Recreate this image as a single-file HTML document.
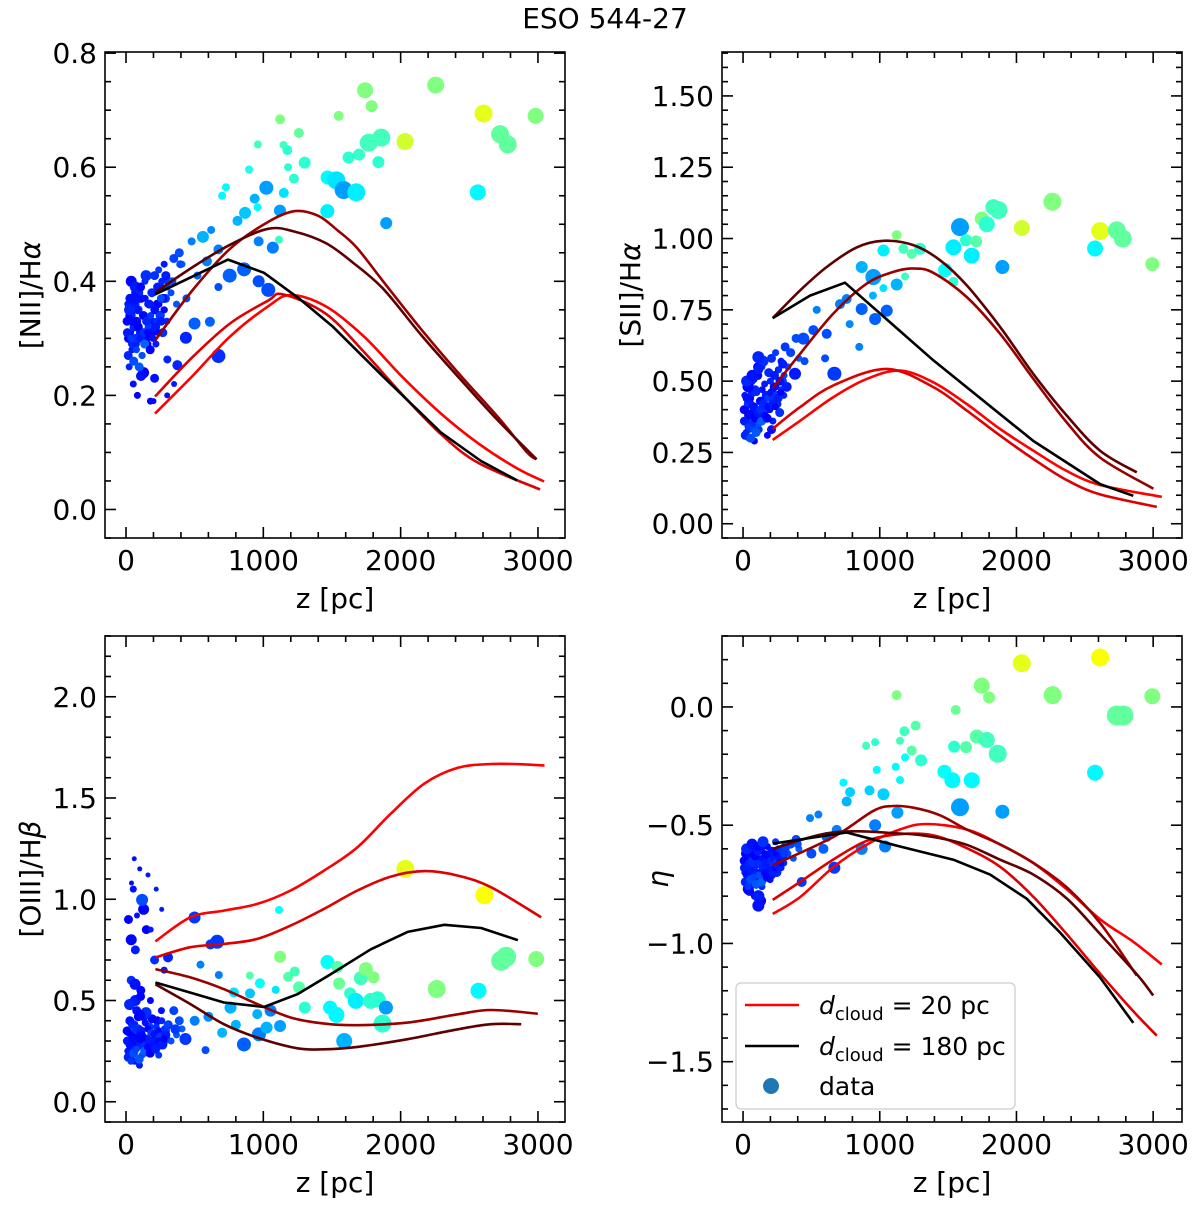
<!DOCTYPE html>
<html><head><meta charset="utf-8"><style>
html,body{margin:0;padding:0;background:#fff}
svg{display:block;font-family:"DejaVu Sans","Liberation Sans",sans-serif}
</style></head><body>
<svg id="fig" width="1200" height="1205" viewBox="0 0 1200 1205" xmlns="http://www.w3.org/2000/svg">
<text x="605" y="28" font-size="28" text-anchor="middle">ESO 544-27</text>
</svg>
<script>
// ---------- data ----------
const panelNames = ['nii-panel','sii-panel','oiii-panel','eta-panel'];
const xTicks = [0,1000,2000,3000];
const yTicks1 = [0.0,0.2,0.4,0.6,0.8];
const yTickLabels1 = ['0.0','0.2','0.4','0.6','0.8'];
const yTicks2 = [0,0.25,0.5,0.75,1.0,1.25,1.5];
const yTickLabels2 = ['0.00','0.25','0.50','0.75','1.00','1.25','1.50'];
const yTicks3 = [0,0.5,1.0,1.5,2.0];
const yTickLabels3 = ['0.0','0.5','1.0','1.5','2.0'];
const yTicks4 = [-1.5,-1.0,-0.5,0.0];
const yTickLabels4 = ['\u22121.5','\u22121.0','\u22120.5','0.0'];

// cluster of small points near the disk (shared z, per-panel values)
const clusterZ = [0,5,10,15,20,25,30,35,40,45,50,55,60,65,70,75,80,90,100,110,120,130,140,150,160,170,180,190,200,210,220,230,240,250,260,270,280,290,300,320,340,360,380,400,30,120,200,60];
const clusterC = [.13,.15,.12,.16,.14,.13,.17,.15,.12,.14,.16,.13,.15,.17,.14,.12,.16,.15,.13,.17,.14,.16,.12,.15,.18,.13,.16,.14,.17,.15,.13,.18,.16,.14,.17,.15,.19,.16,.18,.2,.19,.21,.2,.22,.13,.12,.14,.15];
const clusterR = [4,3,4,3,4,3,4,3,4,3,4,3,4,3,4,3,4,3,4,3,4,3,4,3,4,3,4,3,4,3,4,3,4,3,4,3,4,3,4,3,4,3,4,3,5,5,4,5];
const clusterV1 = [.33,.36,.30,.25,.37,.31,.34,.28,.35,.22,.32,.38,.29,.36,.33,.20,.35,.31,.37,.27,.34,.40,.30,.36,.32,.19,.38,.33,.41,.29,.36,.42,.34,.39,.31,.43,.37,.33,.40,.38,.44,.36,.45,.43,.40,.24,.23,.39];
const clusterV2 = [.40,.45,.36,.32,.48,.38,.42,.30,.44,.35,.50,.39,.46,.34,.41,.29,.47,.37,.52,.33,.43,.55,.38,.49,.40,.31,.53,.44,.58,.36,.48,.60,.42,.54,.39,.57,.50,.45,.62,.55,.60,.52,.65,.58,.48,.37,.33,.51];
const clusterV3 = [.35,.25,.90,.30,.40,.22,.60,.33,.28,1.05,.38,.20,.75,.31,.45,.27,.36,.18,.55,.32,.42,.24,.85,.29,.37,.50,.26,.34,.70,.30,.40,.23,.33,.45,.28,.65,.35,.31,.38,.30,.45,.33,.40,.36,.80,.95,.30,.50];
const clusterV4 = [-.65,-.70,-.62,-.75,-.68,-.60,-.72,-.66,-.78,-.63,-.69,-.58,-.74,-.67,-.61,-.80,-.70,-.64,-.72,-.66,-.60,-.76,-.68,-.63,-.71,-.59,-.67,-.73,-.62,-.69,-.65,-.57,-.70,-.64,-.61,-.68,-.63,-.66,-.60,-.62,-.58,-.64,-.56,-.60,-.77,-.82,-.71,-.60];
// second cluster layer
const cluster2Z = [2,12,22,32,42,52,62,72,82,92,102,112,122,132,142,152,162,172,182,192,202,212,222,232,242,252,262,272,282,292,8,28,48,68,88,108,128,148,168,188,208,228,248,268,18,58,98,138];
const cluster2V1 = [.31,.34,.37,.29,.33,.36,.30,.35,.32,.38,.30,.34,.31,.37,.33,.29,.36,.34,.31,.38,.35,.33,.39,.36,.34,.40,.37,.35,.41,.39,.27,.30,.26,.28,.25,.27,.29,.31,.28,.30,.32,.31,.33,.35,.35,.37,.39,.41];
const cluster2V2 = [.36,.40,.44,.33,.38,.42,.35,.41,.37,.46,.39,.43,.40,.47,.42,.38,.45,.44,.41,.50,.46,.44,.52,.48,.45,.54,.50,.47,.56,.52,.31,.34,.30,.33,.32,.35,.36,.38,.37,.40,.42,.41,.44,.46,.50,.52,.55,.57];
const cluster2V3 = [.30,.34,.28,.38,.32,.26,.36,.31,.42,.29,.35,.33,.27,.39,.31,.36,.30,.34,.41,.28,.33,.37,.30,.35,.32,.40,.29,.36,.33,.38,.22,.20,.24,.26,.21,.23,.25,.27,.24,.28,.26,.30,.28,.31,.48,.58,.52,.44];
const cluster2V4 = [-.68,-.64,-.71,-.66,-.62,-.69,-.65,-.72,-.63,-.67,-.61,-.70,-.66,-.64,-.68,-.62,-.66,-.70,-.63,-.65,-.61,-.67,-.64,-.62,-.66,-.60,-.64,-.61,-.63,-.59,-.74,-.76,-.73,-.72,-.75,-.71,-.74,-.70,-.72,-.69,-.70,-.68,-.67,-.66,-.60,-.58,-.59,-.57];

// individual points: [z, value, marker radius, colour value]
const pts1 = [[1741,.735,8,.5],[1789,.707,6,.5],[2255,.744,8.5,.5],[2604,.694,9,.6],[2983,.69,8,.5],[2724,.658,9,.47],[2780,.64,9,.47],[2032,.645,8.5,.58],[1859,.652,9,.44],[1768,.643,9,.44],[2562,.556,8,.37],[1895,.502,6,.28],[1697,.622,6,.43],[1838,.609,6,.42],[1621,.617,6,.42],[1549,.69,5,.5],[1259,.66,5,.47],[1122,.684,5,.5],[960,.64,4,.44],[1147,.639,4,.44],[1175,.63,5,.42],[1301,.608,6,.42],[1180,.60,4,.42],[1223,.58,5,.42],[896,.596,4,.4],[1468,.582,7,.37],[1532,.577,9,.35],[1585,.56,9,.28],[1677,.556,9,.36],[1466,.523,7,.36],[1022,.564,7,.28],[1121,.524,6,.28],[1149,.555,5,.35],[937,.545,5,.3],[1069,.459,6,.25],[966,.47,5,.25],[860,.421,7,.22],[966,.40,6,.2],[1036,.385,7,.2],[755,.41,7,.22],[673,.269,7,.17],[436,.301,6,.16],[374,.253,5,.16],[301,.263,4,.16],[109,.234,5,.14],[499,.326,6,.22],[611,.329,5,.22],[560,.478,6,.3],[867,.52,6,.32],[812,.506,5,.3],[700,.55,4,.37],[728,.565,4,.37],[958,.53,4,.37],[1114,.473,4,.43],[673,.456,5,.25],[589,.435,5,.25],[478,.47,4,.25],[395,.43,4,.2],[338,.40,4,.2],[254,.37,4,.2],[673,.39,4,.2],[620,.49,4,.26],[520,.41,4,.22],[440,.37,4,.2],[300,.20,3,.14],[200,.19,3,.13],[350,.22,3,.15]];
const pts2 = [[2263,1.129,9,.5],[2612,1.026,9,.6],[2734,1.029,9,.47],[2778,1.0,9,.47],[2994,.91,7,.5],[2575,.965,8,.37],[2039,1.037,8,.58],[1868,1.10,9,.44],[1831,1.11,8,.44],[1783,1.05,8,.42],[1746,1.07,7,.5],[1587,1.04,9,.28],[1539,.969,8,.36],[1673,.94,8,.36],[1705,.99,6,.46],[1631,.994,6,.42],[1897,.90,7,.28],[1478,.889,7,.38],[1539,.848,5,.42],[1124,1.012,5,.5],[1027,.958,6,.36],[1173,.964,5,.44],[1234,.946,5,.46],[1295,.964,6,.42],[868,.90,6,.3],[953,.865,8,.28],[1124,.839,6,.3],[1027,.826,4,.35],[1185,.867,4,.43],[1051,.747,6,.22],[966,.718,6,.22],[868,.753,6,.22],[758,.788,5,.25],[709,.77,5,.25],[668,.526,7,.18],[441,.649,6,.2],[514,.679,5,.2],[539,.75,4,.25],[612,.666,5,.2],[380,.526,6,.15],[112,.584,6,.16],[112,.542,5,.15],[319,.48,5,.15],[850,.62,4,.25],[780,.70,4,.26],[950,.80,4,.3],[600,.58,4,.2],[450,.57,4,.2]];
const pts3 = [[2034,1.15,9,.6],[2610,1.02,9,.62],[2768,.716,10,.47],[2732,.696,10,.47],[2988,.705,8,.5],[2263,.557,9,.5],[2567,.548,8,.37],[1868,.386,9,.42],[1893,.465,7,.28],[1783,.498,8,.42],[1832,.506,8,.42],[1673,.498,8,.36],[1747,.655,7,.5],[1803,.614,6,.5],[1710,.61,7,.44],[1632,.535,6,.42],[1540,.666,6,.46],[1552,.584,6,.48],[1467,.69,7,.38],[1486,.465,7,.37],[1532,.429,8,.37],[1589,.30,8,.3],[1122,.716,6,.5],[1114,.947,4,.38],[1180,.617,5,.46],[1229,.643,5,.44],[1260,.565,6,.46],[1302,.465,6,.42],[1122,.374,6,.28],[1024,.366,6,.3],[968,.333,7,.25],[859,.283,7,.22],[903,.535,5,.32],[975,.585,5,.38],[902,.623,4,.46],[786,.54,5,.35],[1090,.553,4,.35],[1053,.45,6,.25],[956,.433,5,.3],[761,.465,6,.3],[700,.341,5,.3],[664,.79,7,.18],[499,.91,6,.18],[615,.777,5,.18],[676,.626,4,.25],[542,.677,4,.25],[433,.31,6,.18],[579,.255,4,.2],[306,.713,5,.16],[117,.997,6,.2],[104,.317,6,.13],[104,.429,5,.13],[360,.358,5,.18],[60,1.2,2.5,.14],[100,1.15,2.5,.14],[160,1.12,2.5,.15],[220,1.05,2.5,.15],[40,1.08,2.5,.14],[260,0.95,2.5,.15],[80,0.92,3,.14],[180,0.85,3,.15],[600,.42,5,.26],[800,.38,5,.3],[500,.40,5,.25]];
const pts4 = [[2039,.185,9,.6],[2612,.209,9,.62],[2265,.05,9,.5],[2994,.045,8,.5],[2734,-.036,10,.47],[2783,-.036,10,.47],[2575,-.278,8,.37],[1746,.09,8,.5],[1800,.04,6,.5],[1556,-.013,5,.48],[1124,.05,5,.5],[1863,-.198,9,.44],[1783,-.139,8,.44],[1710,-.125,7,.46],[1631,-.17,6,.46],[1544,-.168,6,.42],[1473,-.274,7,.38],[1531,-.31,8,.37],[1673,-.31,8,.37],[1587,-.424,9,.28],[1897,-.443,7,.28],[1263,-.079,5,.46],[1180,-.103,5,.44],[1148,-.143,4,.44],[1234,-.184,5,.46],[1302,-.226,6,.42],[1185,-.213,4,.38],[1117,-.253,4,.37],[978,-.266,4,.37],[966,-.149,4,.42],[900,-.164,4,.44],[1148,-.309,4,.37],[1027,-.369,6,.33],[1129,-.447,6,.28],[966,-.50,6,.25],[1039,-.59,6,.25],[868,-.60,6,.25],[668,-.68,6,.18],[925,-.353,5,.33],[783,-.36,5,.33],[734,-.32,4,.37],[758,-.40,5,.3],[685,-.52,5,.25],[612,-.55,5,.22],[588,-.60,5,.22],[429,-.74,5,.18],[112,-.80,6,.15],[112,-.84,6,.14],[490,-.47,4,.25],[551,-.455,4,.25],[400,-.58,4,.2],[300,-.62,4,.18],[500,-.62,5,.2]];

// model lines (order: bright red, red, maroon, dark maroon, black)
const lineColors = ['#ff0000','#dd0000','#990000','#5e0000','#000000'];
const l1z = [[211,480,757,1034,1202,1456,1733,2010,2294,2571,2848,3045],[211,480,757,1034,1144,1456,1733,2010,2294,2571,3015],[211,480,757,1034,1231,1398,1537,1677,1872,2149,2432,2709,2921,2990],[211,480,757,1034,1231,1456,1646,1872,2149,2432,2709,2990],[211,743,1005,1260,1508,1872,2294,2585,2848]];
const l1v = [[.168,.233,.303,.356,.376,.356,.303,.233,.168,.115,.072,.049],[.198,.266,.326,.366,.377,.343,.276,.202,.132,.081,.035],[.296,.383,.457,.504,.523,.515,.49,.46,.40,.316,.236,.162,.1,.088],[.38,.424,.464,.492,.487,.467,.434,.387,.306,.229,.156,.088],[.377,.438,.415,.37,.32,.233,.135,.085,.051]];
const l2z = [[217,417,661,905,1149,1392,1636,1880,2124,2368,2612,3063],[217,417,661,1051,1392,1636,1880,2124,2368,2612,3027],[217,417,661,905,1100,1246,1392,1636,1880,2124,2368,2612,3002],[217,417,612,831,1027,1246,1441,1636,1880,2124,2368,2612,2880],[217,490,746,1392,2124,2612,2855]];
const l2v = [[.294,.361,.444,.508,.537,.496,.42,.332,.256,.185,.136,.094],[.333,.409,.485,.543,.479,.397,.309,.227,.153,.103,.059],[.475,.596,.737,.842,.883,.895,.88,.795,.666,.508,.355,.232,.123],[.721,.818,.90,.969,.992,.977,.924,.836,.69,.525,.379,.256,.18],[.721,.80,.845,.573,.29,.139,.098]];
const l3z = [[214,469,713,956,1199,1443,1686,1929,2173,2416,2659,2903,3048],[214,469,713,956,1199,1443,1686,1929,2173,2416,2659,3024],[214,469,713,956,1199,1443,1686,2051,2416,2659,2999],[214,469,713,956,1248,1443,1686,2051,2416,2659,2878],[214,469,713,1005,1248,1491,1783,2051,2319,2586,2854]];
const l3v = [[.792,.911,.944,.977,1.043,1.142,1.257,1.423,1.571,1.649,1.668,1.666,1.66],[.713,.763,.779,.804,.87,.953,1.043,1.112,1.139,1.117,1.059,.911],[.655,.614,.556,.482,.416,.386,.378,.391,.432,.453,.435],[.58,.482,.383,.317,.264,.259,.271,.309,.358,.383,.383],[.589,.539,.49,.468,.531,.63,.753,.839,.874,.858,.798]];
const l4z = [[217,417,661,905,1148,1343,1636,1880,2124,2368,2612,2855,3063],[217,417,661,905,1148,1392,1636,1880,2124,2368,2612,2855,3027],[217,661,954,1100,1246,1441,1636,1880,2124,2368,2612,2880],[217,661,1148,1392,1636,1880,2124,2368,2612,2880,3000],[217,758,1148,1539,1807,2075,2319,2612,2855]];
const l4v = [[-.875,-.804,-.677,-.582,-.518,-.495,-.518,-.581,-.66,-.771,-.898,-.993,-1.089],[-.816,-.74,-.645,-.566,-.538,-.543,-.597,-.676,-.803,-.961,-1.128,-1.287,-1.39],[-.669,-.55,-.439,-.419,-.426,-.458,-.518,-.581,-.66,-.763,-.914,-1.136],[-.60,-.53,-.535,-.55,-.583,-.646,-.709,-.81,-.96,-1.13,-1.22],[-.578,-.531,-.59,-.646,-.709,-.811,-.954,-1.144,-1.336]];

// ---------- drawing ----------
const NS = 'http://www.w3.org/2000/svg';
const svg = document.getElementById('fig');
function mk(tag, attrs, parent){const e=document.createElementNS(NS,tag);for(const k in attrs)e.setAttribute(k,attrs[k]);(parent||svg).appendChild(e);return e;}
function jet(c){const cl=v=>Math.max(0,Math.min(1,v));const r=cl(1.5-Math.abs(4*c-3)),g=cl(1.5-Math.abs(4*c-2)),b=cl(1.5-Math.abs(4*c-1));return 'rgb('+Math.round(r*255)+','+Math.round(g*255)+','+Math.round(b*255)+')';}
function smoothPath(P){
  let d='M'+P[0][0].toFixed(1)+','+P[0][1].toFixed(1);
  for(let i=0;i<P.length-1;i++){
    const p0=P[Math.max(0,i-1)],p1=P[i],p2=P[i+1],p3=P[Math.min(P.length-1,i+2)];
    const c1=[p1[0]+(p2[0]-p0[0])/6,p1[1]+(p2[1]-p0[1])/6],c2=[p2[0]-(p3[0]-p1[0])/6,p2[1]-(p3[1]-p1[1])/6];
    d+=' C'+c1[0].toFixed(1)+','+c1[1].toFixed(1)+' '+c2[0].toFixed(1)+','+c2[1].toFixed(1)+' '+p2[0].toFixed(1)+','+p2[1].toFixed(1);
  }
  return d;
}

const panels = [
 {L:105,T:52,xlim:[-153,3197],ylim:[-0.05,0.802],yt:yTicks1,ytl:yTickLabels1,minor:0.05,cv:clusterV1,cv2:cluster2V1,pts:pts1,lz:l1z,lv:l1v,ylab:'[NII]/H',greek:'\u03b1'},
 {L:722,T:52,xlim:[-154,3211],ylim:[-0.05,1.654],yt:yTicks2,ytl:yTickLabels2,minor:0.05,cv:clusterV2,cv2:cluster2V2,pts:pts2,lz:l2z,lv:l2v,ylab:'[SII]/H',greek:'\u03b1'},
 {L:105,T:636,xlim:[-153,3197],ylim:[-0.1,2.3],yt:yTicks3,ytl:yTickLabels3,minor:0.1,cv:clusterV3,cv2:cluster2V3,pts:pts3,lz:l3z,lv:l3v,ylab:'[OIII]/H',greek:'\u03b2'},
 {L:722,T:636,xlim:[-154,3211],ylim:[-1.755,0.3],yt:yTicks4,ytl:yTickLabels4,minor:0.1,cv:clusterV4,cv2:cluster2V4,pts:pts4,lz:l4z,lv:l4v,ylab:'',greek:'\u03b7'}
];
const W=460,H=486;

panels.forEach((p,i)=>{
  const g = mk('g',{});
  
  
  const X = z => p.L + (z-p.xlim[0])/(p.xlim[1]-p.xlim[0])*W;
  const Y = v => p.T + (p.ylim[1]-v)/(p.ylim[1]-p.ylim[0])*H;
  const cp = mk('clipPath',{id:'clip'+i},g);
  mk('rect',{x:p.L,y:p.T,width:W,height:H},cp);
  const plot = mk('g',{'clip-path':'url(#clip'+i+')'},g);
  clusterZ.forEach((z,k)=>{
    const c = mk('circle',{cx:X(z+8),cy:Y(p.cv[k]),r:clusterR[k]+0.5,fill:jet(clusterC[k])},plot);
    
    
  });
  cluster2Z.forEach((z,k)=>{
    const c = mk('circle',{cx:X(z+8),cy:Y(p.cv2[k]),r:clusterR[k]+0.5,fill:jet(clusterC[(k+7)%clusterC.length])},plot);
    
    
  });
  p.pts.slice().sort((a,b)=>a[0]-b[0]).forEach(d=>{
    const c = mk('circle',{cx:X(d[0]),cy:Y(d[1]),r:d[2],fill:jet(d[3])},plot);
    
    
  });
  p.lz.forEach((zs,k)=>{
    const P = zs.map((z,j)=>[X(z),Y(p.lv[k][j])]);
    const d = k===4 ? P.map((q,j)=>(j?'L':'M')+q[0].toFixed(1)+','+q[1].toFixed(1)).join(' ') : smoothPath(P);
    const path = mk('path',{d:d,fill:'none',stroke:lineColors[k],'stroke-width':2.6,'stroke-linejoin':'round'},plot);
    
    
  });
  mk('rect',{x:p.L,y:p.T,width:W,height:H,fill:'none',stroke:'#000','stroke-width':1.6},g);
  for(let z=0; z<=3000; z+=200){
    const major = z%1000===0, len = major?11:6, x=X(z);
    mk('line',{x1:x,y1:p.T+H,x2:x,y2:p.T+H-len,stroke:'#000','stroke-width':1.6},g);
    mk('line',{x1:x,y1:p.T,x2:x,y2:p.T+len,stroke:'#000','stroke-width':1.6},g);
  }
  xTicks.forEach(z=>{
    const t = mk('text',{x:X(z),y:p.T+H+32,'font-size':28,'text-anchor':'middle'},g);
    t.textContent = String(z);
    
    
  });
  const n0 = Math.ceil(p.ylim[0]/p.minor-1e-6), n1 = Math.floor(p.ylim[1]/p.minor+1e-6);
  for(let n=n0;n<=n1;n++){
    const v=n*p.minor, y=Y(v);
    const major = p.yt.some(t=>Math.abs(t-v)<1e-6), len = major?11:6;
    mk('line',{x1:p.L,y1:y,x2:p.L+len,y2:y,stroke:'#000','stroke-width':1.6},g);
    mk('line',{x1:p.L+W,y1:y,x2:p.L+W-len,y2:y,stroke:'#000','stroke-width':1.6},g);
  }
  p.yt.forEach((v,k)=>{
    const t = mk('text',{x:p.L-8,y:Y(v)+10,'font-size':28,'text-anchor':'end'},g);
    t.textContent = p.ytl[k];
    
    
  });
  const xl = mk('text',{x:p.L+230,y:p.T+H+70,'font-size':28,'text-anchor':'middle'},g);
  xl.textContent = 'z [pc]';
  
  
  const lx = i%2===0 ? 40 : (i===1 ? 640 : 668);
  const yl = mk('text',{x:lx,y:p.T+H/2,'font-size':28,'text-anchor':'middle',transform:'rotate(-90 '+lx+' '+(p.T+H/2)+')'},g);
  
  
  if(p.ylab){ yl.appendChild(document.createTextNode(p.ylab)); }
  const ts = mk('tspan',{'font-style':'italic'},yl); ts.textContent = p.greek;
});

const lg = mk('g',{});


mk('rect',{x:736,y:983,width:279,height:126,rx:5,fill:'#fff','fill-opacity':0.8,stroke:'#cccccc','stroke-width':1.2},lg);
const legendLabels = ['20 pc','180 pc'];
const legendColors = ['#ff0000','#000000'];
legendLabels.forEach((lab,k)=>{
  const y = 1005 + k*41;
  const ln = mk('line',{x1:745,y1:y,x2:799,y2:y,stroke:legendColors[k],'stroke-width':2.6},lg);
  
  
  const t = mk('text',{x:819,y:y+9,'font-size':25},lg);
  
  
  const a = mk('tspan',{'font-style':'italic'},t); a.textContent='d';
  const b = mk('tspan',{'font-size':18,dy:6},t); b.textContent='cloud';
  const c = mk('tspan',{dy:-6},t); c.textContent=' = '+lab;
});
const ld = mk('circle',{cx:771,cy:1086,r:8,fill:'#1f77b4'},lg);


const lt = mk('text',{x:819,y:1095,'font-size':25},lg);
lt.textContent='data';


</script>
</body></html>
